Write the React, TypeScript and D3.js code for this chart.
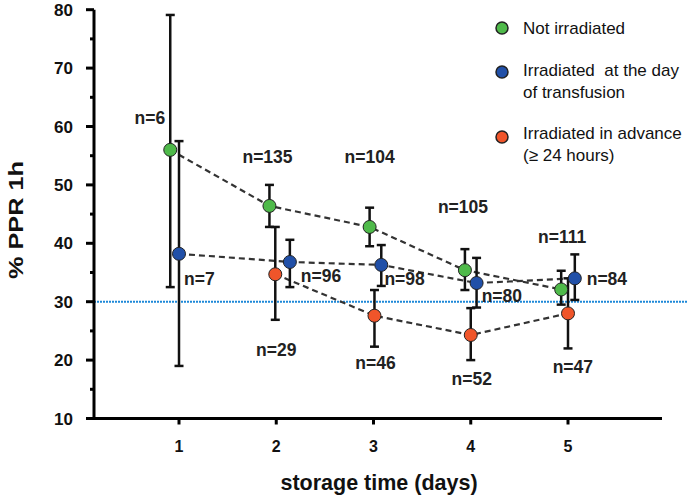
import React from 'react';
import * as d3 from 'd3';

// storage days and y ticks
const days = [1, 2, 3, 4, 5];
const yMajor = [10, 20, 30, 40, 50, 60, 70, 80];
const yMinor = [15, 25, 35, 45, 55, 65, 75];

// Not irradiated (green)
const notIrrX = [0.91, 1.93, 2.96, 3.94, 4.93];
const notIrrMean = [56.0, 46.4, 42.8, 35.4, 32.1];
const notIrrLow = [32.5, 42.8, 39.5, 32.0, 29.5];
const notIrrHigh = [79.1, 50.0, 46.1, 39.0, 35.3];

// Irradiated at the day of transfusion (blue)
const dayOfX = [1.0, 2.14, 3.08, 4.06, 5.07];
const dayOfMean = [38.2, 36.8, 36.3, 33.2, 34.0];
const dayOfLow = [19.0, 32.5, 32.7, 29.0, 30.3];
const dayOfHigh = [57.5, 40.6, 39.7, 37.5, 38.1];

// Irradiated in advance (red)
const advanceX = [1.99, 3.01, 4.0, 5.0];
const advanceMean = [34.7, 27.6, 24.3, 28.0];
const advanceLow = [26.9, 22.3, 20.0, 22.0];
const advanceHigh = [42.8, 32.0, 28.9, 34.0];

// n annotations (in data units)
const nText = ['n=6', 'n=135', 'n=104', 'n=105', 'n=111', 'n=7', 'n=96', 'n=98', 'n=80', 'n=84', 'n=29', 'n=46', 'n=52', 'n=47'];
const nDay = [0.7, 1.91, 2.96, 3.92, 4.94, 1.21, 2.46, 3.32, 4.32, 5.4, 2.0, 3.02, 4.01, 5.05];
const nValue = [61.5, 54.9, 54.8, 46.2, 41.1, 34.0, 34.5, 34.0, 31.1, 34.0, 21.7, 19.5, 16.9, 18.8];

const threshold = 30;

const legendLabels = [['Not irradiated'], ['Irradiated  at the day', 'of transfusion'], ['Irradiated in advance', '(\u2265 24 hours)']];

const GREEN = '#4fba4a';
const BLUE = '#2150a8';
const RED = '#f0552a';
const FONT = 'Arial, "Liberation Sans", sans-serif';

const App: React.FC = () => {
  const width = 688;
  const height = 497;

  const x = d3.scaleLinear().domain([1, 5]).range([179, 568]);
  const y = d3.scaleLinear().domain([10, 80]).range([418.5, 9.7]);
  const axisX = 94;
  const axisY = y(10);

  const series = [
    { xs: notIrrX, mean: notIrrMean, low: notIrrLow, high: notIrrHigh, color: GREEN },
    { xs: dayOfX, mean: dayOfMean, low: dayOfLow, high: dayOfHigh, color: BLUE },
    { xs: advanceX, mean: advanceMean, low: advanceLow, high: advanceHigh, color: RED },
  ];

  // legend rows: circle y, first text line y
  const legendCircleY = [28, 72, 137];
  const legendTextY = [28, 70, 133];

  return (
    <div style={{ position: 'absolute', left: 0, top: 0 }}>
      <svg width={width} height={height} style={{ display: 'block', background: '#fff' }} fontFamily={FONT}>
        {/* threshold line */}
        <line
          x1={axisX}
          x2={width}
          y1={y(threshold)}
          y2={y(threshold)}
          stroke="#1d88d8"
          strokeWidth={2}
          strokeDasharray="2,1"
        />

        {/* dashed connectors */}
        {series.map((s, k) => {
          const path = d3
            .line<number>()
            .x((_, i) => x(s.xs[i]))
            .y((d) => y(d))(s.mean);
          return (
            <path key={'l' + k} d={path || ''} fill="none" stroke="#333" strokeWidth={2.2} strokeDasharray="6,4" />
          );
        })}

        {/* error bars */}
        {series.map((s, k) =>
          s.mean.map((_, i) => {
            const cx = x(s.xs[i]);
            return (
              <g key={'e' + k + '-' + i} stroke="#111" strokeWidth={2.5}>
                <line x1={cx} x2={cx} y1={y(s.low[i])} y2={y(s.high[i])} />
                <line x1={cx - 4.5} x2={cx + 4.5} y1={y(s.low[i])} y2={y(s.low[i])} />
                <line x1={cx - 4.5} x2={cx + 4.5} y1={y(s.high[i])} y2={y(s.high[i])} />
              </g>
            );
          }),
        )}

        {/* markers */}
        {series.map((s, k) =>
          s.mean.map((d, i) => (
            <circle key={'m' + k + '-' + i} cx={x(s.xs[i])} cy={y(d)} r={6.5} fill={s.color} stroke="#222" strokeWidth={1} />
          )),
        )}

        {/* y axis */}
        <line x1={axisX} x2={axisX} y1={axisY + 1.5} y2={y(80)} stroke="#000" strokeWidth={3} />
        {yMajor.map((v) => (
          <g key={'ym' + v}>
            <line x1={axisX - 8} x2={axisX} y1={y(v)} y2={y(v)} stroke="#000" strokeWidth={3} />
            <text x={73} y={y(v)} dy="0.36em" textAnchor="end" fontSize={17} fontWeight="bold" fill="#111">
              {v}
            </text>
          </g>
        ))}
        {yMinor.map((v) => (
          <line key={'yn' + v} x1={axisX - 4} x2={axisX} y1={y(v)} y2={y(v)} stroke="#000" strokeWidth={3} />
        ))}

        {/* x axis */}
        <line x1={axisX - 8} x2={662} y1={axisY} y2={axisY} stroke="#000" strokeWidth={3} />
        {days.map((d) => (
          <g key={'xt' + d}>
            <line x1={x(d)} x2={x(d)} y1={axisY} y2={axisY + 6} stroke="#000" strokeWidth={3} />
            <text x={x(d)} y={452} textAnchor="middle" fontSize={16} fontWeight="bold" fill="#111">
              {d}
            </text>
          </g>
        ))}

        {/* axis titles */}
        <text x={379} y={490} textAnchor="middle" fontSize={21.5} fontWeight="bold" fill="#111">
          storage time (days)
        </text>
        <text
          transform={`translate(23,220) rotate(-90)`}
          textAnchor="middle"
          fontSize={20}
          fontWeight="bold"
          fill="#111"
          textLength={118}
          lengthAdjust="spacingAndGlyphs"
        >
          % PPR 1h
        </text>

        {/* n labels */}
        {nText.map((t, i) => (
          <text key={'n' + i} x={x(nDay[i])} y={y(nValue[i])} dy="0.36em" textAnchor="middle" fontSize={17.5} fontWeight="bold" fill="#222">
            {t}
          </text>
        ))}

        {/* legend */}
        {series.map((s, k) => (
          <g key={'lg' + k}>
            <circle cx={502} cy={legendCircleY[k]} r={6} fill={s.color} stroke="#222" strokeWidth={1.5} />
            {legendLabels[k].map((txt, j) => (
              <text
                key={j}
                x={523}
                y={legendTextY[k] + j * 22}
                dy="0.36em"
                fontSize={17}
                fill="#111"
                style={{ whiteSpace: 'pre' }}
              >
                {txt}
              </text>
            ))}
          </g>
        ))}
      </svg>
    </div>
  );
};

export default App;
